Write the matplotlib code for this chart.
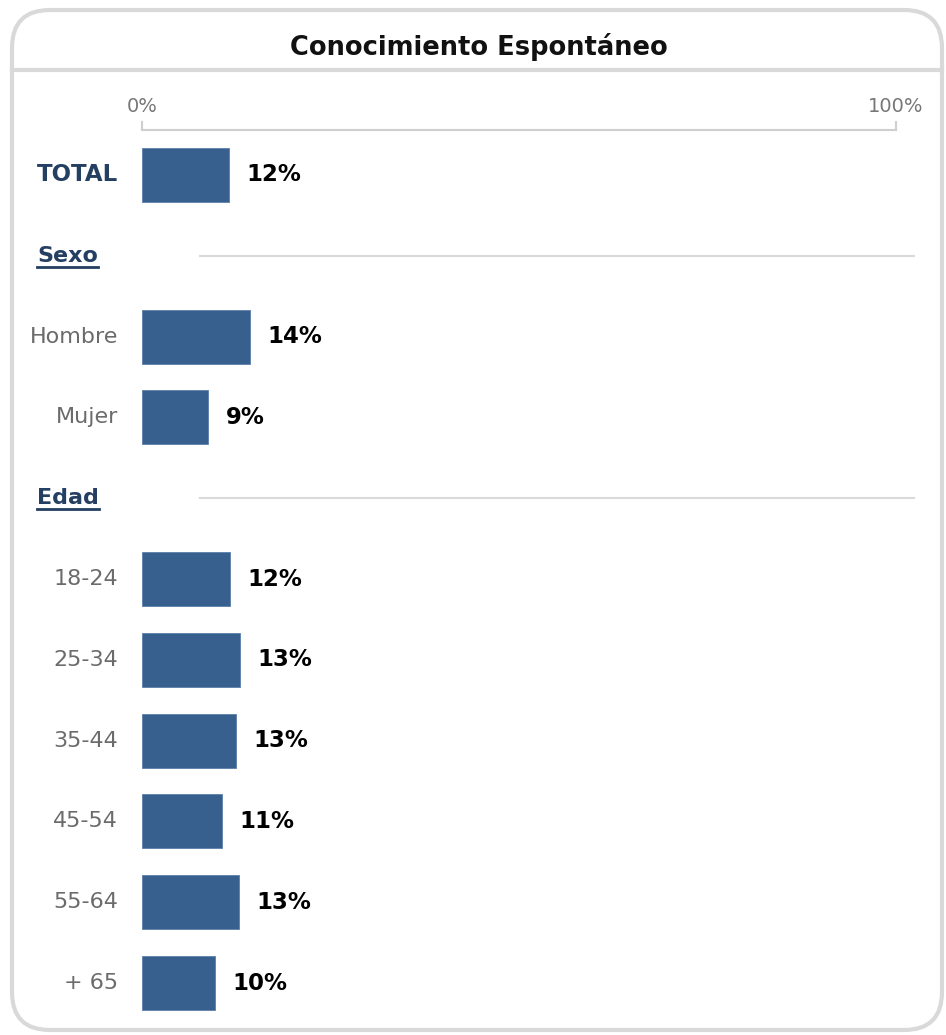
import matplotlib
matplotlib.use('Agg')
import matplotlib.pyplot as plt
from matplotlib.patches import FancyBboxPatch
from matplotlib.transforms import blended_transform_factory

# rows, top to bottom (None = section header row)
rows = ['TOTAL', 'Sexo', 'Hombre', 'Mujer', 'Edad',
        '18-24', '25-34', '35-44', '45-54', '55-64', '+ 65']
values = [11.5, None, 14.3, 8.8, None, 11.7, 13.0, 12.5, 10.6, 12.9, 9.7]
labels = ['12%', None, '14%', '9%', None, '12%', '13%', '13%', '11%', '13%', '10%']
headers = ['Sexo', 'Edad']
title = 'Conocimiento Espontáneo'

bar_color = '#37608f'
navy = '#243f62'
gray_txt = '#6b6b6b'
line_gray = '#d9d9d9'

W, H = 946, 1035
fig = plt.figure(figsize=(W / 100, H / 100), dpi=100)
plt.rcParams['font.family'] = ['DejaVu Sans']

# background card drawn in pixel space
bg = fig.add_axes([0, 0, 1, 1], zorder=0)
bg.set_xlim(0, W)
bg.set_ylim(H, 0)
bg.axis('off')
card = FancyBboxPatch((12, 10), 930, 1020, boxstyle='round,pad=0,rounding_size=38',
                      fc='white', ec=line_gray, lw=3)
bg.add_patch(card)
bg.plot([12, 942], [70, 70], color=line_gray, lw=3)
bg.text(W / 2 + 6, 47, title, ha='center', va='center', fontsize=18.5,
        fontweight='bold', color='#111111')

# bar axes: x 0..100 maps to pixels 142..896, axis line at y=130
x0, x1 = 142, 896
y_top, y_bot = 130, 1035
row0, step = 175, 80.8
ax = fig.add_axes([x0 / W, 1 - y_bot / H, (x1 - x0) / W, (y_bot - y_top) / H], zorder=1)
ax.patch.set_visible(False)
ax.set_xlim(0, 100)
ax.set_ylim((y_bot - row0) / step, (y_top - row0) / step)

for s in ['left', 'right', 'bottom']:
    ax.spines[s].set_visible(False)
ax.spines['top'].set_color('#cfcfcf')
ax.spines['top'].set_linewidth(1.5)
ax.xaxis.tick_top()
ax.set_xticks([0, 100])
ax.set_xticklabels(['0%', '100%'])
ax.tick_params(axis='x', direction='out', length=0, pad=10, labelsize=14,
               labelcolor='#777777')
ax.set_yticks([])
# little end ticks pointing up
for xv in [0, 100]:
    ax.plot([xv, xv], [(y_top - row0) / step, (y_top - 8 - row0) / step],
            color='#cfcfcf', lw=1.5, clip_on=False)

lab_tr = blended_transform_factory(fig.transFigure, ax.transData)

for i, (name, v, lab) in enumerate(zip(rows, values, labels)):
    if v is None:
        continue
    ax.barh(i, v, height=0.67, color=bar_color, edgecolor='#5a7fab', lw=0.6)
    ax.text(v + 2.3, i, lab, ha='left', va='center', fontsize=16.5,
            fontweight='bold', color='black')
    if name == 'TOTAL':
        ax.text(118 / W, i, name, transform=lab_tr, ha='right', va='center',
                fontsize=16.5, fontweight='bold', color=navy)
    else:
        ax.text(118 / W, i, name, transform=lab_tr, ha='right', va='center',
                fontsize=16, color=gray_txt)

# section headers with underline and separator
hdr_texts = []
for h in headers:
    i = rows.index(h)
    t = ax.text(37 / W, i, h, transform=lab_tr, ha='left', va='center',
                fontsize=16, fontweight='bold', color=navy)
    hdr_texts.append(t)
    ax.plot([(200 - x0) / (x1 - x0) * 100, (914 - x0) / (x1 - x0) * 100], [i, i],
            color=line_gray, lw=1.5, clip_on=False)

fig.canvas.draw()
r = fig.canvas.get_renderer()
for t in hdr_texts:
    bb = t.get_window_extent(r)
    yl = H - (bb.y0 - 1)
    bg.plot([bb.x0, bb.x1], [yl, yl], color=navy, lw=2)

fig.savefig('out.png', dpi=100)
